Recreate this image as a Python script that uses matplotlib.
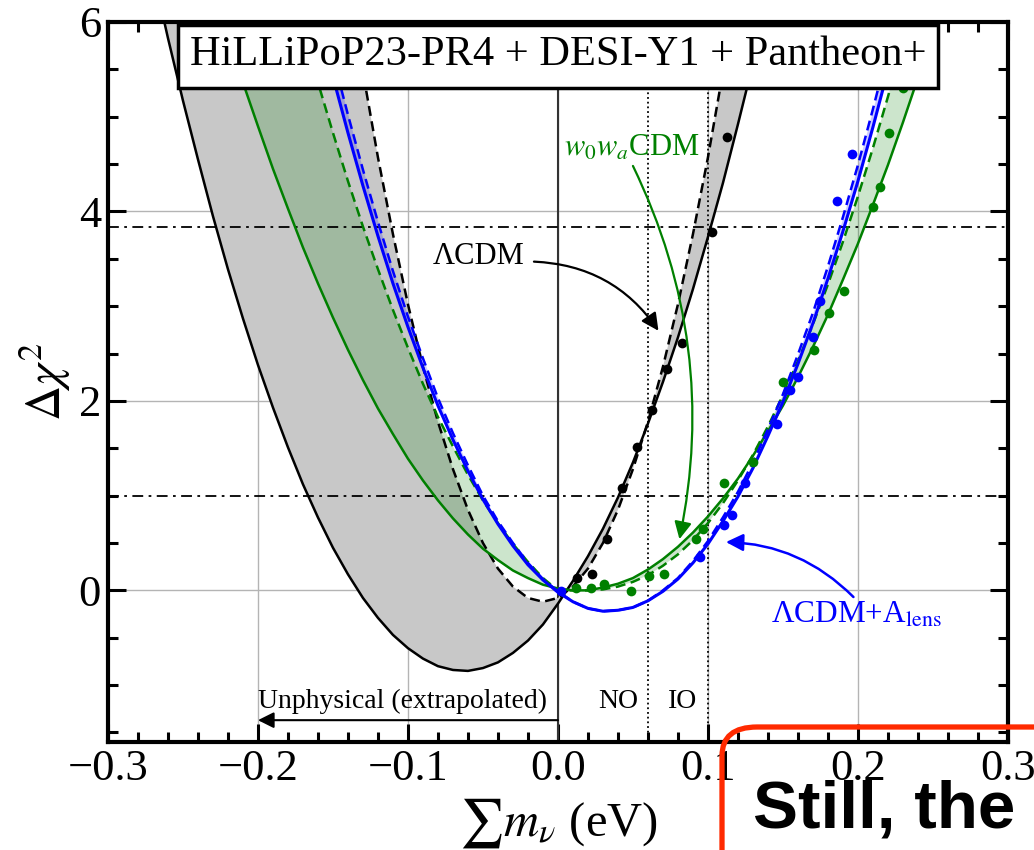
import numpy as np
import matplotlib
matplotlib.use("Agg")
import matplotlib.pyplot as plt
from matplotlib.patches import Rectangle, FancyBboxPatch
from matplotlib.ticker import MultipleLocator

plt.rcParams['font.family'] = ['Liberation Serif', 'DejaVu Serif']
plt.rcParams['mathtext.fontset'] = 'stix'

# LCDM (black): extrapolated profile (solid) and second profile (dashed)
x_lcdm = [-0.27, -0.26, -0.25, -0.24, -0.23, -0.22, -0.21, -0.20, -0.19, -0.18,
          -0.17, -0.16, -0.15, -0.14, -0.13, -0.12, -0.11, -0.10, -0.09, -0.08,
          -0.07, -0.06, -0.05, -0.04, -0.03, -0.02, -0.01, 0.00, 0.01, 0.02,
          0.03, 0.04, 0.05, 0.06, 0.07, 0.08, 0.09, 0.10, 0.11, 0.12, 0.13, 0.14]
lcdm_solid = [6.53, 5.83, 5.17, 4.55, 3.95, 3.39, 2.87, 2.38, 1.93, 1.51,
              1.12, 0.77, 0.45, 0.17, -0.08, -0.29, -0.47, -0.61, -0.72, -0.80,
              -0.84, -0.85, -0.82, -0.76, -0.66, -0.53, -0.36, -0.14, 0.10, 0.36,
              0.65, 0.98, 1.35, 1.76, 2.20, 2.67, 3.18, 3.73, 4.30, 4.92, 5.56, 6.25]
lcdm_dash = [26.11, 24.13, 22.23, 20.41, 18.66, 16.99, 15.40, 13.89, 12.45, 11.09,
             9.81, 8.61, 7.48, 6.44, 5.47, 4.57, 3.76, 3.02, 2.36, 1.78,
             1.28, 0.85, 0.50, 0.23, 0.04, -0.08, -0.12, -0.08, 0.04, 0.23,
             0.50, 0.85, 1.28, 1.78, 2.36, 3.02, 3.76, 4.57, 5.47, 6.44, 7.48, 8.61]
lcdm_pts_x = [0.013, 0.023, 0.033, 0.043, 0.053, 0.063, 0.073, 0.083, 0.103, 0.113]
lcdm_pts_y = [0.13, 0.17, 0.54, 1.08, 1.51, 1.90, 2.34, 2.61, 3.78, 4.79]

# w0waCDM (green)
x_w0wa = [-0.22, -0.21, -0.20, -0.19, -0.18, -0.17, -0.16, -0.15, -0.14, -0.13,
          -0.12, -0.11, -0.10, -0.09, -0.08, -0.07, -0.06, -0.05, -0.04, -0.03,
          -0.02, -0.01, 0.00, 0.01, 0.02, 0.03, 0.04, 0.05, 0.06, 0.07,
          0.08, 0.09, 0.10, 0.11, 0.12, 0.13, 0.14, 0.15, 0.16, 0.17,
          0.18, 0.19, 0.20, 0.21, 0.22, 0.23, 0.24, 0.25]
w0wa_solid = [5.85, 5.36, 4.90, 4.45, 4.03, 3.62, 3.24, 2.88, 2.54, 2.22,
              1.92, 1.65, 1.39, 1.16, 0.95, 0.76, 0.59, 0.44, 0.32, 0.21,
              0.13, 0.06, 0.02, 0.00, 0.00, 0.03, 0.07, 0.13, 0.22, 0.33,
              0.46, 0.61, 0.78, 0.97, 1.18, 1.42, 1.68, 1.95, 2.25, 2.57,
              2.91, 3.28, 3.66, 4.07, 4.49, 4.94, 5.41, 5.90]
w0wa_dash = [9.11, 8.42, 7.76, 7.12, 6.51, 5.92, 5.36, 4.83, 4.32, 3.84,
             3.39, 2.96, 2.56, 2.18, 1.83, 1.52, 1.22, 0.95, 0.71, 0.49,
             0.30, 0.13, 0.00, 0.00, 0.00, 0.01, 0.04, 0.09, 0.16, 0.26,
             0.38, 0.53, 0.71, 0.92, 1.16, 1.43, 1.73, 2.06, 2.42, 2.81,
             3.23, 3.68, 4.16, 4.67, 5.21, 5.78, 6.38, 7.00]
w0wa_pts_x = [0.012, 0.022, 0.031, 0.049, 0.061, 0.071, 0.092, 0.097, 0.111,
              0.130, 0.150, 0.171, 0.181, 0.191, 0.210, 0.215, 0.221, 0.230]
w0wa_pts_y = [0.03, 0.02, 0.07, -0.01, 0.15, 0.17, 0.54, 0.65, 1.13,
              1.36, 2.20, 2.54, 2.93, 3.16, 4.05, 4.26, 4.83, 5.30]

# LCDM + Alens (blue)
x_alens = [-0.16, -0.15, -0.14, -0.13, -0.12, -0.11, -0.10, -0.09, -0.08, -0.07,
           -0.06, -0.05, -0.04, -0.03, -0.02, -0.01, 0.00, 0.01, 0.02, 0.03,
           0.04, 0.05, 0.06, 0.07, 0.08, 0.09, 0.10, 0.11, 0.12, 0.13,
           0.14, 0.15, 0.16, 0.17, 0.18, 0.19, 0.20, 0.21, 0.22, 0.23]
alens_solid = [6.05, 5.42, 4.83, 4.27, 3.74, 3.24, 2.78, 2.35, 1.95, 1.59,
               1.26, 0.96, 0.70, 0.47, 0.27, 0.11, -0.02, -0.12, -0.19, -0.22,
               -0.21, -0.18, -0.11, -0.01, 0.12, 0.29, 0.49, 0.73, 0.99, 1.29,
               1.63, 1.99, 2.39, 2.82, 3.29, 3.79, 4.32, 4.89, 5.49, 6.12]
alens_dash = [6.28, 5.63, 5.02, 4.44, 3.89, 3.37, 2.89, 2.45, 2.03, 1.66,
              1.32, 1.00, 0.73, 0.50, 0.29, 0.12, -0.01, -0.12, -0.19, -0.22,
              -0.21, -0.18, -0.11, 0.00, 0.13, 0.31, 0.52, 0.77, 1.04, 1.35,
              1.70, 2.07, 2.49, 2.93, 3.42, 3.94, 4.49, 5.08, 5.70, 6.36]
alens_pts_x = [0.002, 0.095, 0.111, 0.116, 0.125, 0.146, 0.155, 0.160, 0.170,
               0.175, 0.186, 0.196]
alens_pts_y = [-0.01, 0.35, 0.69, 0.80, 1.13, 1.76, 2.11, 2.25, 2.67,
               3.05, 4.11, 4.61]

# reference levels
chi2_levels = [1.0, 3.84]
mass_orderings = [0.06, 0.10]

fig = plt.figure(figsize=(10.34, 8.5), dpi=100)
ax = fig.add_axes([0.1044, 0.1271, 0.8704, 0.8471])

ax.set_xlim(-0.3, 0.3)
ax.set_ylim(-1.6, 6)

ax.grid(True, which='major', color='#b4b4b4', lw=1.0, zorder=0)
ax.set_axisbelow(True)
ax.axvline(0.0, color='#333333', lw=1.5, zorder=1)

# bands
ax.fill_between(x_lcdm, lcdm_solid, lcdm_dash, color='#c8c8c8', lw=0, zorder=1.2, interpolate=True)
ax.fill_between(x_w0wa, w0wa_solid, w0wa_dash, color='green', alpha=0.2, lw=0, zorder=1.3, interpolate=True)
ax.fill_between(x_alens, alens_solid, alens_dash, color='blue', alpha=0.2, lw=0, zorder=1.4, interpolate=True)

for lev in chi2_levels:
    ax.axhline(lev, color='black', lw=1.3, ls=(0, (6, 3, 1.5, 3)), zorder=1.5)
for m in mass_orderings:
    ax.axvline(m, color='black', lw=1.3, ls=(0, (1, 1.6)), zorder=1.5)

ax.plot(x_lcdm, lcdm_solid, color='black', lw=1.8, zorder=2)
ax.plot(x_lcdm, lcdm_dash, color='black', lw=1.8, ls=(0, (4, 2.2)), zorder=2)
ax.plot(x_w0wa, w0wa_solid, color='green', lw=1.8, zorder=2)
ax.plot(x_w0wa, w0wa_dash, color='green', lw=1.8, ls=(0, (4, 2.2)), zorder=2)
ax.plot(x_alens, alens_solid, color='blue', lw=2.2, zorder=2.1)
ax.plot(x_alens, alens_dash, color='blue', lw=1.8, ls=(0, (4, 2.2)), zorder=2.1)

ax.plot(lcdm_pts_x, lcdm_pts_y, 'o', color='black', ms=7, mew=0, zorder=2.2)
ax.plot(w0wa_pts_x, w0wa_pts_y, 'o', color='green', ms=7, mew=0, zorder=2.2)
ax.plot(alens_pts_x, alens_pts_y, 'o', color='blue', ms=7, mew=0, zorder=2.2)

# ticks and frame
ax.xaxis.set_major_locator(MultipleLocator(0.1))
ax.xaxis.set_minor_locator(MultipleLocator(0.02))
ax.yaxis.set_major_locator(MultipleLocator(2))
ax.yaxis.set_minor_locator(MultipleLocator(0.5))
ax.set_xticks([-0.3, -0.2, -0.1, 0.0, 0.1, 0.2, 0.3])
ax.set_xticklabels(['\u22120.3', '\u22120.2', '\u22120.1', '0.0', '0.1', '0.2', '0.3'])
ax.set_yticks([0, 2, 4, 6])
ax.set_yticklabels(['0', '2', '4', '6'])
ax.tick_params(which='both', direction='in', top=True, right=True, width=2.2, labelsize=32)
ax.tick_params(which='major', length=13, pad=5)
ax.tick_params(which='minor', length=7)
for sp in ax.spines.values():
    sp.set_linewidth(3)

# title box
ax.add_patch(Rectangle((0.0778, 0.908), 0.845, 0.088, transform=ax.transAxes,
                       facecolor='white', edgecolor='black', lw=2.5, zorder=10))
ax.text(0.5, 0.94, 'HiLLiPoP23-PR4 + DESI-Y1 + Pantheon+', transform=ax.transAxes,
        ha='center', va='baseline', fontsize=30.5, zorder=11)

# annotations
ax.text(-0.0527, 3.52, '\u039bCDM', ha='center', va='center', fontsize=22, zorder=5)
ax.annotate('', xy=(0.067, 2.74), xytext=(-0.016, 3.47),
            arrowprops=dict(arrowstyle='-|>', color='black', lw=1.6, mutation_scale=26,
                            shrinkA=0, shrinkB=0, connectionstyle='arc3,rad=-0.25'), zorder=5)

ax.text(0.049, 4.67, r'$w_0w_a$CDM', color='green', ha='center', va='center', fontsize=22, zorder=5)
ax.annotate('', xy=(0.081, 0.54), xytext=(0.05, 4.48),
            arrowprops=dict(arrowstyle='-|>', color='green', lw=1.6, mutation_scale=26,
                            shrinkA=0, shrinkB=0, connectionstyle='arc3,rad=-0.17'), zorder=5)

ax.text(0.142, -0.34, '\u039bCDM+A$_{\\rm lens}$', color='blue', ha='left', va='baseline',
        fontsize=22.5, zorder=5)
ax.annotate('', xy=(0.112, 0.51), xytext=(0.197, -0.07),
            arrowprops=dict(arrowstyle='-|>', color='blue', lw=1.8, mutation_scale=26,
                            shrinkA=0, shrinkB=0, connectionstyle='arc3,rad=0.2'), zorder=5)

ax.text(-0.2, -1.24, 'Unphysical (extrapolated)', ha='left', va='baseline', fontsize=20, zorder=5)
ax.annotate('', xy=(-0.2, -1.37), xytext=(0.0, -1.37),
            arrowprops=dict(arrowstyle='-|>', color='black', lw=1.5, mutation_scale=24,
                            shrinkA=0, shrinkB=0), zorder=5)
ax.text(0.04, -1.24, 'NO', ha='center', va='baseline', fontsize=20, zorder=5)
ax.text(0.083, -1.24, 'IO', ha='center', va='baseline', fontsize=20, zorder=5)

# axis labels
fig.text(45 / 1034, 1 - 382 / 850, r'$\Delta\chi^2$', rotation=90, ha='center', va='center', fontsize=35)
fig.text(558 / 1034, 1 - 823 / 850, r'$\sum m_\nu$ (eV)', ha='center', va='center', fontsize=35)

# slide overlay box
fig.add_artist(FancyBboxPatch((722 / 1034, -0.1), 0.5, 1 - 727 / 850 + 0.1,
                              boxstyle='round,pad=0,rounding_size=0.034',
                              transform=fig.transFigure, facecolor='none',
                              edgecolor='#ff2a00', lw=3.8, zorder=5))
fig.text(753 / 1034, 1 - 828 / 850, 'Still, the b', family='Liberation Sans',
         fontweight='bold', fontsize=48.5, ha='left', va='baseline', zorder=6)

fig.savefig('out.png', dpi=100)
